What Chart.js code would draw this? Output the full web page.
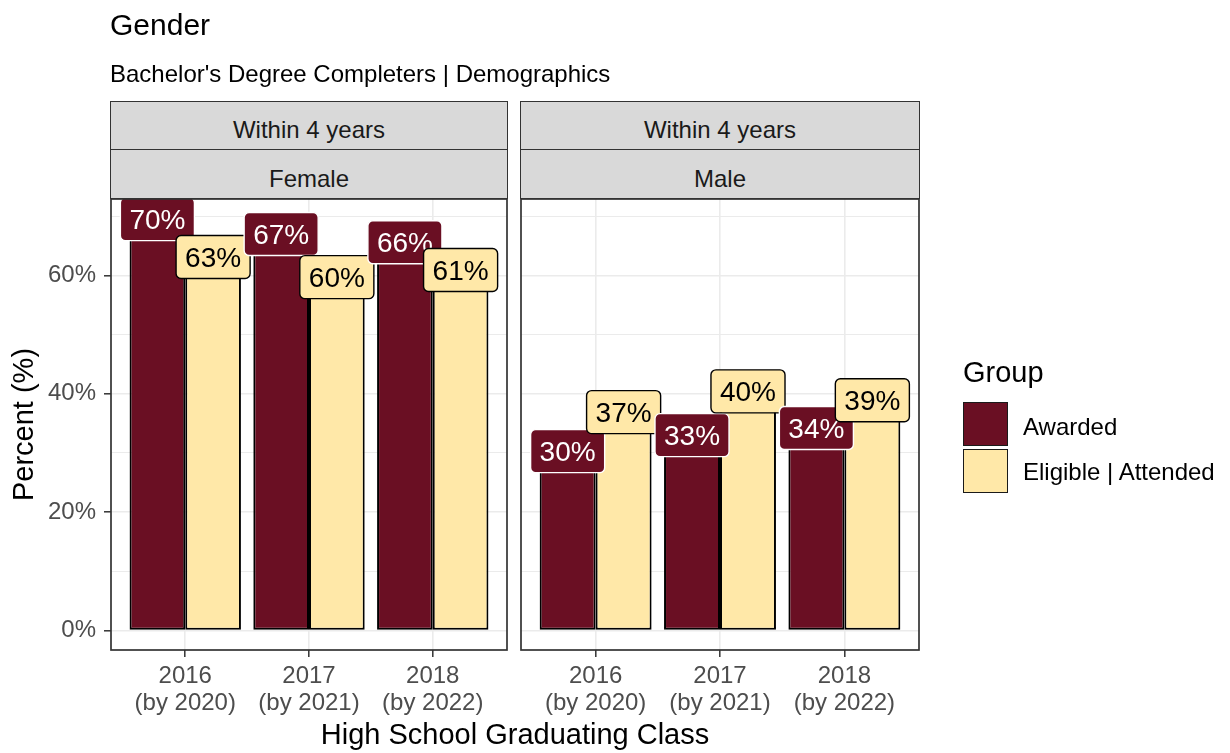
<!DOCTYPE html>
<html>
<head>
<meta charset="utf-8">
<script src="https://cdn.jsdelivr.net/npm/chart.js@4.4.1/dist/chart.umd.min.js"></script>
<style>
html,body{margin:0;padding:0;background:#fff;}
#wrap{position:relative;width:1230px;height:753px;overflow:hidden;font-family:"Liberation Sans",Arial,sans-serif;}
canvas{position:absolute;left:0;top:0;}
.t{position:absolute;white-space:nowrap;line-height:1.15;}
.strip{position:absolute;background:#d9d9d9;border:1.5px solid #333;box-sizing:border-box;}
.key{position:absolute;border:1.8px solid #1a1a1a;box-sizing:border-box;}
</style>
</head>
<body>
<div id="wrap">
<canvas id="c1" width="1230" height="753"></canvas>
<canvas id="c2" width="1230" height="753"></canvas>
</div>
<script>
// ---------- data ----------
const categories = ['2016', '2017', '2018'];
const categoryLabels = [['2016', '(by 2020)'], ['2017', '(by 2021)'], ['2018', '(by 2022)']];
const panels = ['Female', 'Male'];
const stripTop = 'Within 4 years';
const groups = ['Awarded', 'Eligible | Attended'];
const femaleAwarded = [69.5, 67.0, 65.6];
const femaleEligible = [63.1, 59.7, 60.9];
const maleAwarded = [30.3, 33.0, 34.2];
const maleEligible = [36.9, 40.4, 38.9];
const yTicks = [0, 10, 20, 30, 40, 50, 60, 70];
const yLabelTicks = [0, 20, 40, 60];

// ---------- style ----------
const FONT = '"Liberation Sans", Arial, sans-serif';
const COL_A = '#6A0F23';
const COL_E = '#FFE8A8';
Chart.defaults.font.family = FONT;

const allVals = femaleAwarded.concat(femaleEligible, maleAwarded, maleEligible);
const dataMax = Math.max.apply(null, allVals);
const yMin = -dataMax * 0.0475;
const yMax = dataMax * 1.049;

const panelBorder = {
  id: 'panelBorder',
  afterDraw(chart) {
    const a = chart.chartArea, ctx = chart.ctx;
    ctx.save();
    ctx.strokeStyle = '#333333';
    ctx.lineWidth = 1.7;
    ctx.strokeRect(a.left, a.top, a.right - a.left, a.bottom - a.top);
    ctx.restore();
  }
};

const barLabels = {
  id: 'barLabels',
  afterDatasetsDraw(chart) {
    const a = chart.chartArea, ctx = chart.ctx;
    const F = 28, padX = 9, h = 43;
    ctx.save();
    ctx.beginPath();
    ctx.rect(a.left, a.top, a.right - a.left, a.bottom - a.top);
    ctx.clip();
    ctx.font = F + 'px ' + FONT;
    const n = chart.data.datasets[0].data.length;
    for (let i = 0; i < n; i++) {
      for (let d = 0; d < chart.data.datasets.length; d++) {
        const el = chart.getDatasetMeta(d).data[i];
        const v = chart.data.datasets[d].data[i].y;
        const text = Math.round(v) + '%';
        const tw = ctx.measureText(text).width;
        const w = tw + 2 * padX;
        const x0 = el.x - w / 2, y0 = el.y - h / 2;
        ctx.beginPath();
        ctx.roundRect(x0, y0, w, h, 5);
        ctx.fillStyle = d === 0 ? COL_A : COL_E;
        ctx.fill();
        ctx.lineWidth = 1.4;
        ctx.strokeStyle = d === 0 ? '#ffffff' : '#000000';
        ctx.stroke();
        ctx.fillStyle = d === 0 ? '#ffffff' : '#000000';
        ctx.textAlign = 'center';
        ctx.textBaseline = 'alphabetic';
        ctx.fillText(text, el.x, el.y + 0.36 * F);
      }
    }
    ctx.restore();
  }
};

function makeChart(id, aw, el, isFirst) {
  return new Chart(document.getElementById(id), {
    type: 'bar',
    data: {
      datasets: [
        { label: groups[0], data: aw.map((v, i) => ({ x: i + 1, y: v })), backgroundColor: COL_A,
          borderColor: '#000', borderWidth: 2, borderSkipped: false },
        { label: groups[1], data: el.map((v, i) => ({ x: i + 1, y: v })), backgroundColor: COL_E,
          borderColor: '#000', borderWidth: 2, borderSkipped: false }
      ]
    },
    options: {
      responsive: false, animation: false, devicePixelRatio: 1,
      layout: { padding: isFirst ? { left: 0, top: 199, right: 723, bottom: 23 }
                                 : { left: 521, top: 199, right: 311, bottom: 23 } },
      categoryPercentage: 0.9, barPercentage: 1.0,
      plugins: { legend: { display: false }, tooltip: { enabled: false } },
      scales: {
        x: {
          type: 'linear', min: 0.4, max: categories.length + 0.6, offset: false,
          afterBuildTicks: s => { s.ticks = categories.map((c, i) => ({ value: i + 1 })); },
          afterFit: s => { s.height = 80; },
          ticks: { callback: v => categoryLabels[Math.round(v) - 1], color: '#4d4d4d',
                   font: { size: 24, family: FONT, lineHeight: 1.125 }, padding: 6,
                   maxRotation: 0, autoSkip: false },
          grid: { offset: false, color: '#ebebeb', lineWidth: 1.6, tickLength: 7,
                  tickColor: '#333333', tickWidth: 1.5 },
          border: { display: false }
        },
        y: {
          type: 'linear', min: yMin, max: yMax,
          afterBuildTicks: s => { s.ticks = yTicks.map(v => ({ value: v })); },
          afterFit: s => { s.width = isFirst ? 111 : 0; },
          ticks: { display: isFirst, callback: v => yLabelTicks.includes(v) ? v + '%' : '',
                   color: '#4d4d4d', font: { size: 24, family: FONT }, padding: 8 },
          grid: { color: '#ebebeb',
                  lineWidth: c => yLabelTicks.includes(c.tick.value) ? 1.6 : 1.0,
                  drawTicks: isFirst, tickLength: 7,
                  tickColor: c => yLabelTicks.includes(c.tick.value) ? '#333333' : 'rgba(0,0,0,0)',
                  tickWidth: 1.5 },
          border: { display: false },
          title: { display: isFirst, text: 'Percent (%)', color: '#000',
                   font: { size: 29, family: FONT }, padding: { top: 8 } }
        }
      }
    },
    plugins: [barLabels, panelBorder]
  });
}

makeChart('c1', femaleAwarded, femaleEligible, true);
makeChart('c2', maleAwarded, maleEligible, false);

// ---------- text, strips, legend ----------
const wrap = document.getElementById('wrap');
function addText(txt, style) {
  const d = document.createElement('div');
  d.className = 't';
  d.textContent = txt;
  Object.assign(d.style, style);
  wrap.appendChild(d);
  return d;
}
function addBox(cls, style) {
  const d = document.createElement('div');
  d.className = cls;
  Object.assign(d.style, style);
  wrap.appendChild(d);
  return d;
}
addText('Gender', { left: '110px', top: '8px', fontSize: '30px', color: '#000' });
addText("Bachelor's Degree Completers | Demographics", { left: '110px', top: '60px', fontSize: '24px', color: '#000' });
addText('High School Graduating Class', { left: '111px', width: '808px', textAlign: 'center', top: '718px', fontSize: '29px', color: '#000' });

const panelX = [[110, 508], [520, 920]];
panels.forEach((p, i) => {
  const [l, r] = panelX[i];
  addBox('strip', { left: l + 'px', top: '101px', width: (r - l) + 'px', height: '49px' });
  addBox('strip', { left: l + 'px', top: '149px', width: (r - l) + 'px', height: '50px' });
  addText(stripTop, { left: l + 'px', width: (r - l) + 'px', textAlign: 'center', top: '116px', fontSize: '24px', color: '#1a1a1a' });
  addText(p, { left: l + 'px', width: (r - l) + 'px', textAlign: 'center', top: '165px', fontSize: '24px', color: '#1a1a1a' });
});

addText('Group', { left: '963px', top: '356px', fontSize: '29px', color: '#000' });
const keyCols = [COL_A, COL_E];
groups.forEach((g, i) => {
  addBox('key', { left: '963px', top: (402 + i * 47) + 'px', width: '45px', height: '44px', background: keyCols[i] });
  addText(g, { left: '1023px', top: (413 + i * 45) + 'px', fontSize: '24px', color: '#000' });
});
</script>
</body>
</html>
